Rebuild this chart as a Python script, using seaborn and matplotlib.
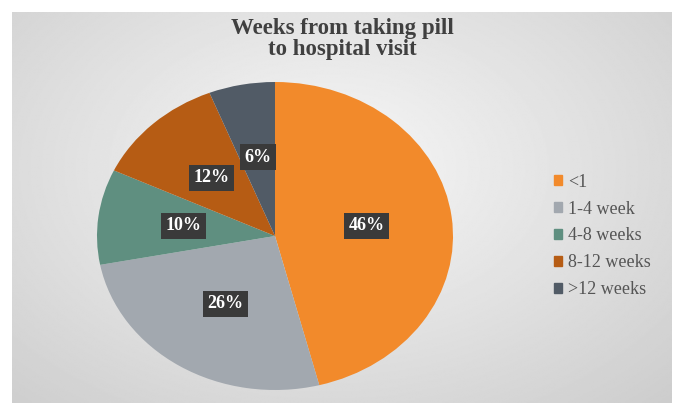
import numpy as np
import matplotlib
matplotlib.use("Agg")
import matplotlib.pyplot as plt
import seaborn as sns

# Share of patients by weeks between taking the pill and the hospital visit
categories = ["<1", "1-4 week", "4-8 weeks", "8-12 weeks", ">12 weeks"]
shares = [46, 26, 10, 12, 6]
slice_colors = ["#F28A2B", "#A2A8AF", "#5F8F80", "#B65C14", "#515B66"]
title_text = "Weeks from taking pill\nto hospital visit"

sns.set_theme(style="white")
plt.rcParams["font.family"] = ["Liberation Serif", "DejaVu Serif"]
palette = sns.color_palette(slice_colors)

W, H = 675, 403
fig = plt.figure(figsize=(W / 100, H / 100), dpi=100)
fig.patch.set_facecolor("white")

# Radial grey gradient behind the chart area
bg = fig.add_axes([12 / W, 0, (672 - 12) / W, (403 - 12) / H])
bg.set_axis_off()
yy, xx = np.mgrid[0:1:300j, 0:1:500j]
dist = np.sqrt(((xx - 0.48) / 0.75) ** 2 + ((yy - 0.6) / 0.85) ** 2)
shade = np.clip(0.97 - 0.17 * dist, 0.78, 0.97)
bg.imshow(shade, cmap="gray", vmin=0, vmax=1, aspect="auto",
          extent=(0, 1, 0, 1), origin="lower", interpolation="bilinear")

# Pie (stretched horizontally)
ax = fig.add_axes([97 / W, (H - 390) / H, 356 / W, 308 / H])
wedges, texts, autotexts = ax.pie(
    shares, colors=palette, startangle=90, counterclock=False,
    autopct=lambda p: f"{p:.0f}%", pctdistance=0.52, radius=1,
    wedgeprops=dict(linewidth=0),
)
ax.set_aspect("auto")
ax.set_xlim(-1, 1)
ax.set_ylim(-1, 1)
ax.patch.set_alpha(0)
for t in autotexts:
    t.set_color("white")
    t.set_fontweight("bold")
    t.set_fontsize(13)
    t.set_bbox(dict(boxstyle="square,pad=0.25", facecolor="#3A3A3A",
                    edgecolor="none"))

fig.text(0.5 * (222 + 463) / W, 1 - 39 / H, title_text, ha="center",
         va="center", fontsize=16.5, fontweight="bold", color="#404040",
         linespacing=1.0)

handles = [plt.Rectangle((0, 0), 1, 1, color=c) for c in palette]
fig.legend(handles, categories, loc="center left",
           bbox_to_anchor=(538 / W, 1 - 236 / H), frameon=False,
           fontsize=13, handlelength=0.45, handleheight=0.45,
           handletextpad=0.3, labelspacing=0.55, labelcolor="#555555")

fig.savefig("out.png", dpi=100)
